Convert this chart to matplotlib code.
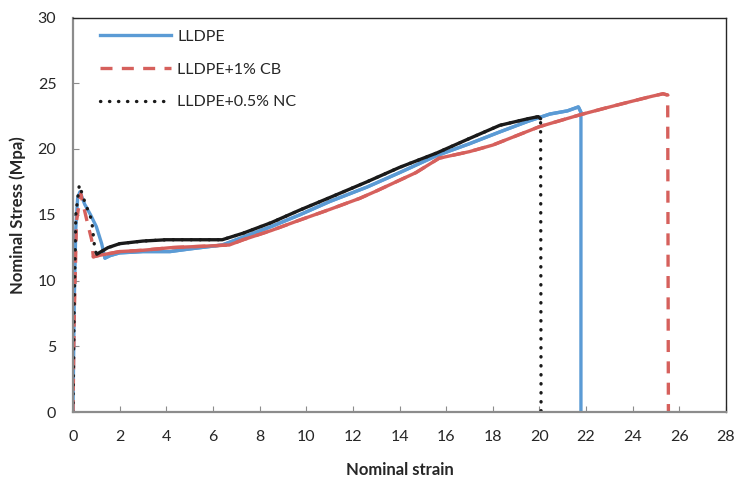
import numpy as np
import matplotlib
matplotlib.use('Agg')
import matplotlib.pyplot as plt

plt.rcParams['font.family'] = ['Lato', 'DejaVu Sans']

# nominal strain / nominal stress (MPa)
strain_pe = [0, 0.05, 0.12, 0.2, 0.3, 0.5, 0.75, 1.0, 1.23, 1.37, 1.6, 2.0, 3.0,
             4.16, 5.0, 6.4, 7.3, 8.5, 9.73, 11.0, 12.6, 14.0, 15.6, 17.0, 18.3,
             19.5, 20.45, 21.2, 21.67, 21.78, 21.78]
stress_pe = [0, 8, 14, 16.3, 16.75, 15.8, 15.0, 14.1, 12.8, 11.7, 11.9, 12.1, 12.2,
             12.2, 12.4, 12.7, 13.3, 14.1, 15.0, 16.0, 17.1, 18.2, 19.5, 20.4, 21.3,
             22.1, 22.66, 22.9, 23.2, 22.8, 0]

strain_cb = [0, 0.05, 0.15, 0.33, 0.59, 0.8, 0.87, 1.1, 2.0, 3.0, 4.2, 5.5, 6.7,
             7.3, 8.5, 9.73, 11.0, 12.3, 13.0, 14.7, 15.7, 17.0, 18.0, 19.0, 20.0,
             21.74, 22.8, 23.9, 24.8, 25.3, 25.5, 25.53]
stress_cb = [0, 7, 14.5, 16.6, 14.6, 13.1, 11.8, 11.9, 12.2, 12.3, 12.5, 12.6, 12.7,
             13.1, 13.8, 14.6, 15.4, 16.25, 16.8, 18.2, 19.3, 19.8, 20.3, 21.0, 21.7,
             22.6, 23.1, 23.6, 24.0, 24.2, 24.1, 0]

strain_nc = [0, 0.05, 0.12, 0.27, 0.5, 0.8, 0.94, 1.02, 1.5, 2.0, 3.0, 4.0, 5.0,
             6.4, 7.3, 8.5, 9.73, 11.0, 12.6, 14.0, 15.6, 17.0, 18.3, 19.5, 19.95,
             20.05, 20.07]
stress_nc = [0, 8, 15, 17.26, 16.0, 14.6, 12.3, 12.0, 12.5, 12.8, 13.0, 13.1, 13.1,
             13.1, 13.6, 14.4, 15.36, 16.3, 17.5, 18.6, 19.7, 20.8, 21.8, 22.3, 22.46,
             22.3, 0]

labels = ['LLDPE', 'LLDPE+1% CB', 'LLDPE+0.5% NC']
colors = ['#5B9BD5', '#D6605C', '#1A1A1A']
styles = ['-', (0, (3.6, 2.8)), (0, (0.1, 2.6))]

fig = plt.figure(figsize=(7.39, 4.82), dpi=100)
ax = fig.add_axes([73 / 739, 1 - 412 / 482, 653 / 739, 394.5 / 482])

series = [(strain_pe, stress_pe), (strain_cb, stress_cb), (strain_nc, stress_nc)]
for (x, y), lab, c, ls in zip(series, labels, colors, styles):
    x = np.asarray(x); y = np.asarray(y)
    ax.plot(x, y, color=c, lw=2.4, ls=ls, label=lab,
            dash_capstyle='round' if lab.endswith('NC') else 'butt')
    # dense measured data renders as solid along the flow region
    ipk = int(np.argmax(y[:8]))
    imin = ipk + int(np.argmin(y[ipk:ipk + 8]))
    ax.plot(x[imin:-1], y[imin:-1], color=c, lw=2.4, ls='-', solid_capstyle='round')

ax.set_xlim(0, 28)
ax.set_ylim(0, 30)
ax.set_xticks(np.arange(0, 29, 2))
ax.set_yticks(np.arange(0, 31, 5))
ax.tick_params(direction='in', length=4, color='#8C8C8C', labelsize=11.5,
               labelcolor='#262626')
ax.tick_params(axis='x', pad=13)
ax.tick_params(axis='y', pad=12)
for s in ['left', 'bottom']:
    ax.spines[s].set_color('#8C8C8C')
    ax.spines[s].set_linewidth(1.6)
for s in ['top', 'right']:
    ax.spines[s].set_color('#262626')
    ax.spines[s].set_linewidth(1.0)

ax.set_xlabel('Nominal strain', fontsize=12, fontweight='bold', labelpad=13,
              color='#262626')
ax.set_ylabel('Nominal Stress (Mpa)', fontsize=12, fontweight='bold', labelpad=8,
              color='#262626')

leg = ax.legend(loc='upper left', frameon=False, fontsize=11.5, handlelength=4.4,
                handletextpad=0.4, labelspacing=1.15, bbox_to_anchor=(0.02, 1.005))
for t in leg.get_texts():
    t.set_color('#262626')

fig.savefig('out.png', dpi=100)
